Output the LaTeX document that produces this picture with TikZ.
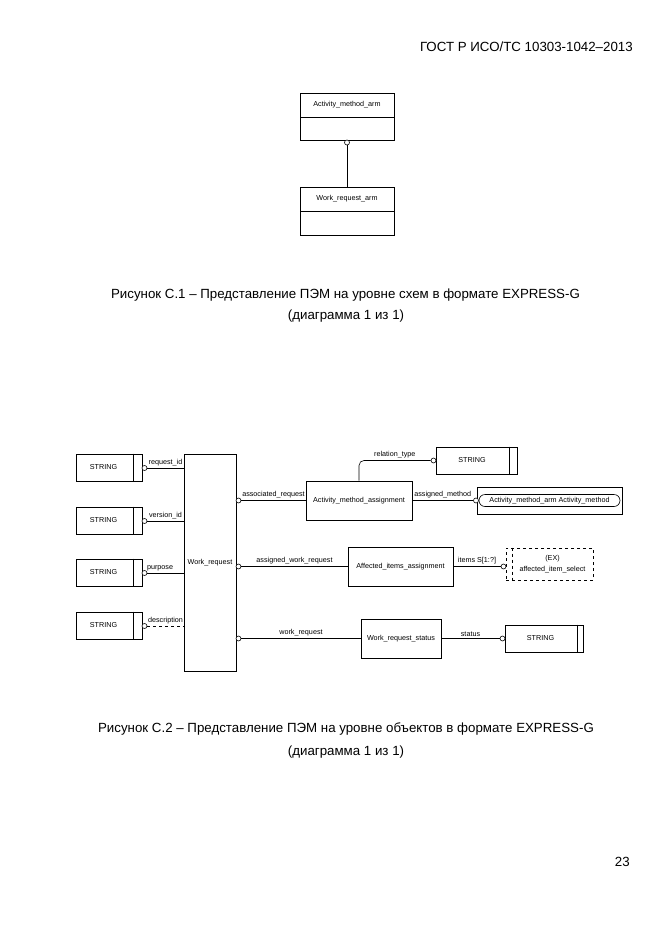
\documentclass[tikz,border=0pt]{standalone}
\usepackage{fontspec}
\setmainfont{Liberation Sans}
\usetikzlibrary{positioning}

\tikzset{
	ent/.style={draw, line width=0.6pt, inner sep=1pt, font=\fontsize{7.2}{11}\selectfont},
	lbl/.style={inner sep=2pt, font=\fontsize{7.2}{9}\selectfont},
	endmark/.style={circle, draw, fill=white, inner sep=0pt, minimum size=5pt, line width=0.6pt},
	capt/.style={inner sep=0pt, font=\fontsize{13.3}{15}\selectfont},
}

\begin{document}
\begin{tikzpicture}[x=1pt, y=-1pt, line width=0.6pt]
	\useasboundingbox (0,0) rectangle (661,935);
	\node[capt, anchor=east] (hdr) at (633,47) {ГОСТ Р ИСО/ТС 10303-1042–2013};
	\node[capt, anchor=east] (pg) at (630,862) {23};
	% schema level
	\node[ent, minimum width=94pt, minimum height=24pt] (amarm) at (347,105) {Activity\_method\_arm};
	\node[ent, minimum width=94pt, minimum height=23pt, below=0pt of amarm] (amarmb) {};
	\node[endmark] (amc) at (347,142.5) {};
	\node[ent, minimum width=94pt, minimum height=24pt] (wrarm) at (347,199) {Work\_request\_arm};
	\node[ent, minimum width=94pt, minimum height=24pt, below=0pt of wrarm] (wrarmb) {};
	\draw (amc) -- (wrarm);
	\node[capt] (cap1) at (345.5,295) {Рисунок  С.1 – Представление ПЭМ на уровне схем в формате EXPRESS-G};
	\node[capt] (cap1b) at (346,316) {(диаграмма 1 из 1)};
	% entity level
	\node[ent, minimum width=52pt, minimum height=217pt] (wr) at (210,562.5) {Work\_request};
	\node[ent, minimum width=66pt, minimum height=27pt] (s1) at (109,467.5) {STRING\kern11pt};
	\node[ent, minimum width=66pt, minimum height=27pt] (s2) at (109,520.5) {STRING\kern11pt};
	\node[ent, minimum width=66pt, minimum height=27pt] (s3) at (109,572.5) {STRING\kern11pt};
	\node[ent, minimum width=66pt, minimum height=27pt] (s4) at (109,625.5) {STRING\kern11pt};
	\draw ([xshift=-9pt]s1.north east) -- ([xshift=-9pt]s1.south east);
	\draw ([xshift=-9pt]s2.north east) -- ([xshift=-9pt]s2.south east);
	\draw ([xshift=-9pt]s3.north east) -- ([xshift=-9pt]s3.south east);
	\draw ([xshift=-9pt]s4.north east) -- ([xshift=-9pt]s4.south east);
	\node[endmark] (c1) at (144.5,468) {};
	\node[endmark] (c2) at (144.5,521) {};
	\node[endmark] (c3) at (144.5,573) {};
	\node[endmark] (c4) at (144.5,626) {};
	\draw (c1) -- (c1 -| wr.west) node[lbl, midway, above] {request\_id};
	\draw (c2) -- (c2 -| wr.west) node[lbl, midway, above] {version\_id};
	\draw (c3) -- (c3 -| wr.west) node[lbl, pos=0.35, above] {purpose};
	\draw[dashed] (c4) -- (c4 -| wr.west) node[lbl, midway, above] {description};
	\node[ent, minimum width=106pt, minimum height=39pt] (ama) at (359,500.5) {Activity\_method\_assignment};
	\node[ent, minimum width=81pt, minimum height=27pt] (s5) at (476.5,460.5) {STRING\kern9pt};
	\draw ([xshift=-8pt]s5.north east) -- ([xshift=-8pt]s5.south east);
	\node[ent, minimum width=145pt, minimum height=27pt] (ref) at (549.5,500.5) {};
	\node[ent, rounded corners=6pt, minimum width=141pt, minimum height=12pt, inner sep=0pt] (refin) at (549.5,500.5) {Activity\_method\_arm Activity\_method};
	\node[ent, minimum width=105pt, minimum height=39pt] (aia) at (400.5,566.5) {Affected\_items\_assignment};
	\node[ent, dashed, minimum width=87pt, minimum height=32pt] (sel) at (549.5,564) {};
	\draw[dashed] ([xshift=7pt]sel.north west) -- ([xshift=7pt]sel.south west);
	\node[lbl, align=center, font=\fontsize{7.2}{11}\selectfont] (seltxt) at ([xshift=3pt]sel.center) {(EX)\\affected\_item\_select};
	\node[ent, minimum width=80pt, minimum height=39pt] (wrs) at (401,638.5) {Work\_request\_status};
	\node[ent, minimum width=78pt, minimum height=27pt] (s6) at (544,638.5) {STRING\kern7pt};
	\draw ([xshift=-6pt]s6.north east) -- ([xshift=-6pt]s6.south east);
	\node[endmark] (c5) at (238.5,500.5) {};
	\node[endmark] (c6) at (238.5,566.5) {};
	\node[endmark] (c7) at (238.5,638.5) {};
	\node[endmark] (c8) at (433.5,460.5) {};
	\node[endmark] (c9) at (476,500.5) {};
	\node[endmark] (c10) at (503.5,566.5) {};
	\node[endmark] (c11) at (502.5,638.5) {};
	\draw (c5) -- (ama) node[lbl, midway, above] {associated\_request};
	\draw[rounded corners=5pt] (ama.north) |- (c8) node[lbl, pos=0.75, above] {relation\_type};
	\draw (ama) -- (c9) node[lbl, midway, above] {assigned\_method};
	\draw (c6) -- (aia) node[lbl, midway, above] {assigned\_work\_request};
	\draw (aia) -- (c10) node[lbl, midway, above] {items S[1:?]};
	\draw (c7) -- (wrs) node[lbl, midway, above] {work\_request};
	\draw (wrs) -- (c11) node[lbl, midway, above] {status};
	\node[capt] (cap2) at (346,729) {Рисунок  С.2 – Представление ПЭМ на уровне объектов в формате EXPRESS-G};
	\node[capt] (cap2b) at (346,752) {(диаграмма 1 из 1)};
\end{tikzpicture}
\end{document}
